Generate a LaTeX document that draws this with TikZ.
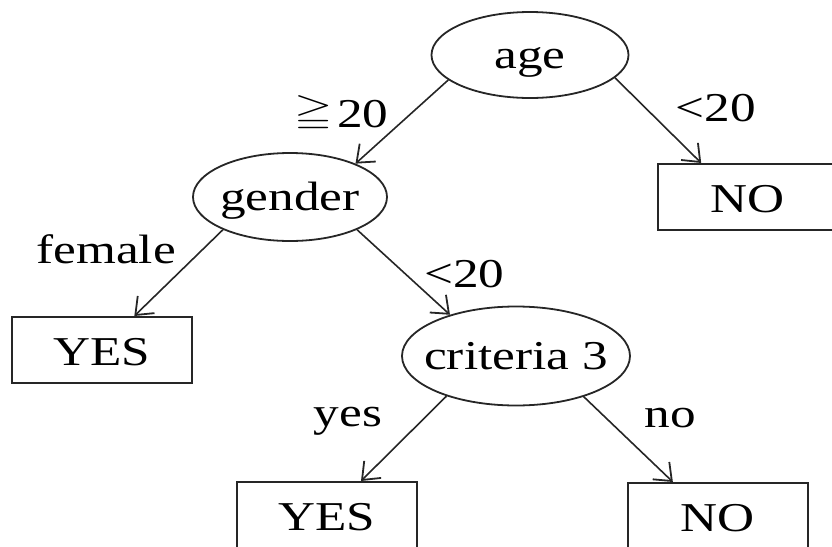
\documentclass[tikz,border=0pt]{standalone}
\usepackage{amssymb}
\usepackage{fontspec}
\setmainfont{Liberation Serif}[FakeStretch=1.25]
\usetikzlibrary{arrows.meta, positioning, shapes.geometric}

\newcommand{\geqsym}{\raisebox{2.5pt}{\scalebox{1.2}[0.87]{$\geqq$}}\kern2pt}

\begin{document}
\begin{tikzpicture}[x=0.5pt, y=-0.5pt, on grid,
    font=\fontsize{20.5}{24}\selectfont,
    decision/.style={draw=black!85, line width=0.9pt, ellipse, inner xsep=-20pt, inner ysep=0pt, text height=16pt, text depth=3pt},
    leaf/.style={draw=black!85, line width=1pt, rectangle, minimum width=90pt, minimum height=33pt, text height=15pt, text depth=0pt},
    arr/.style={every edge/.append style={draw=black!85, line width=0.8pt, -{Straight Barb[length=7.5pt,width=12pt,line width=0.9pt]}}},
    lbl/.style={inner sep=0pt}]
    \useasboundingbox (0,0) rectangle (832,547);
           \node[decision, minimum width=98.5pt, minimum height=43pt] (age) at (530,55) {age};
           \node[decision, minimum width=97pt, minimum height=44pt] (gender) [below left=71pt and 120pt of age] {gender};
           \node[leaf] (no_1) [below right=71pt and 109pt of age] {NO};
           \node[leaf] (yes_1) [below left=76.5pt and 94.25pt of gender] {YES};
           \node[decision, minimum width=114pt, minimum height=49.5pt] (crit) [below right=79.5pt and 113pt of gender] {criteria 3};
           \node[leaf] (yes_2) [below left=79.5pt and 94.5pt of crit] {YES};
           \node[leaf] (no_2) [below right=80pt and 101pt of crit] {NO};
            \path[arr]
            (age.197) edge node[lbl, pos=.4, left=11pt] {\geqsym 20} (gender.27)
            (age.345) edge node[lbl, pos=.35, right=15pt] {<20} (no_1.144)
            (gender.206) edge node[lbl, pos=.23, left=13pt] {female} (yes_1.46)
            (gender.334) edge node[lbl, pos=.52, right=9pt] {<20} (crit.148)
            (crit.210) edge node[lbl, pos=.3, left=19pt] {yes} (yes_2.45)
            (crit.329) edge node[lbl, pos=.25, right=19pt] {no} (no_2.143);
        \end{tikzpicture}
\end{document}
